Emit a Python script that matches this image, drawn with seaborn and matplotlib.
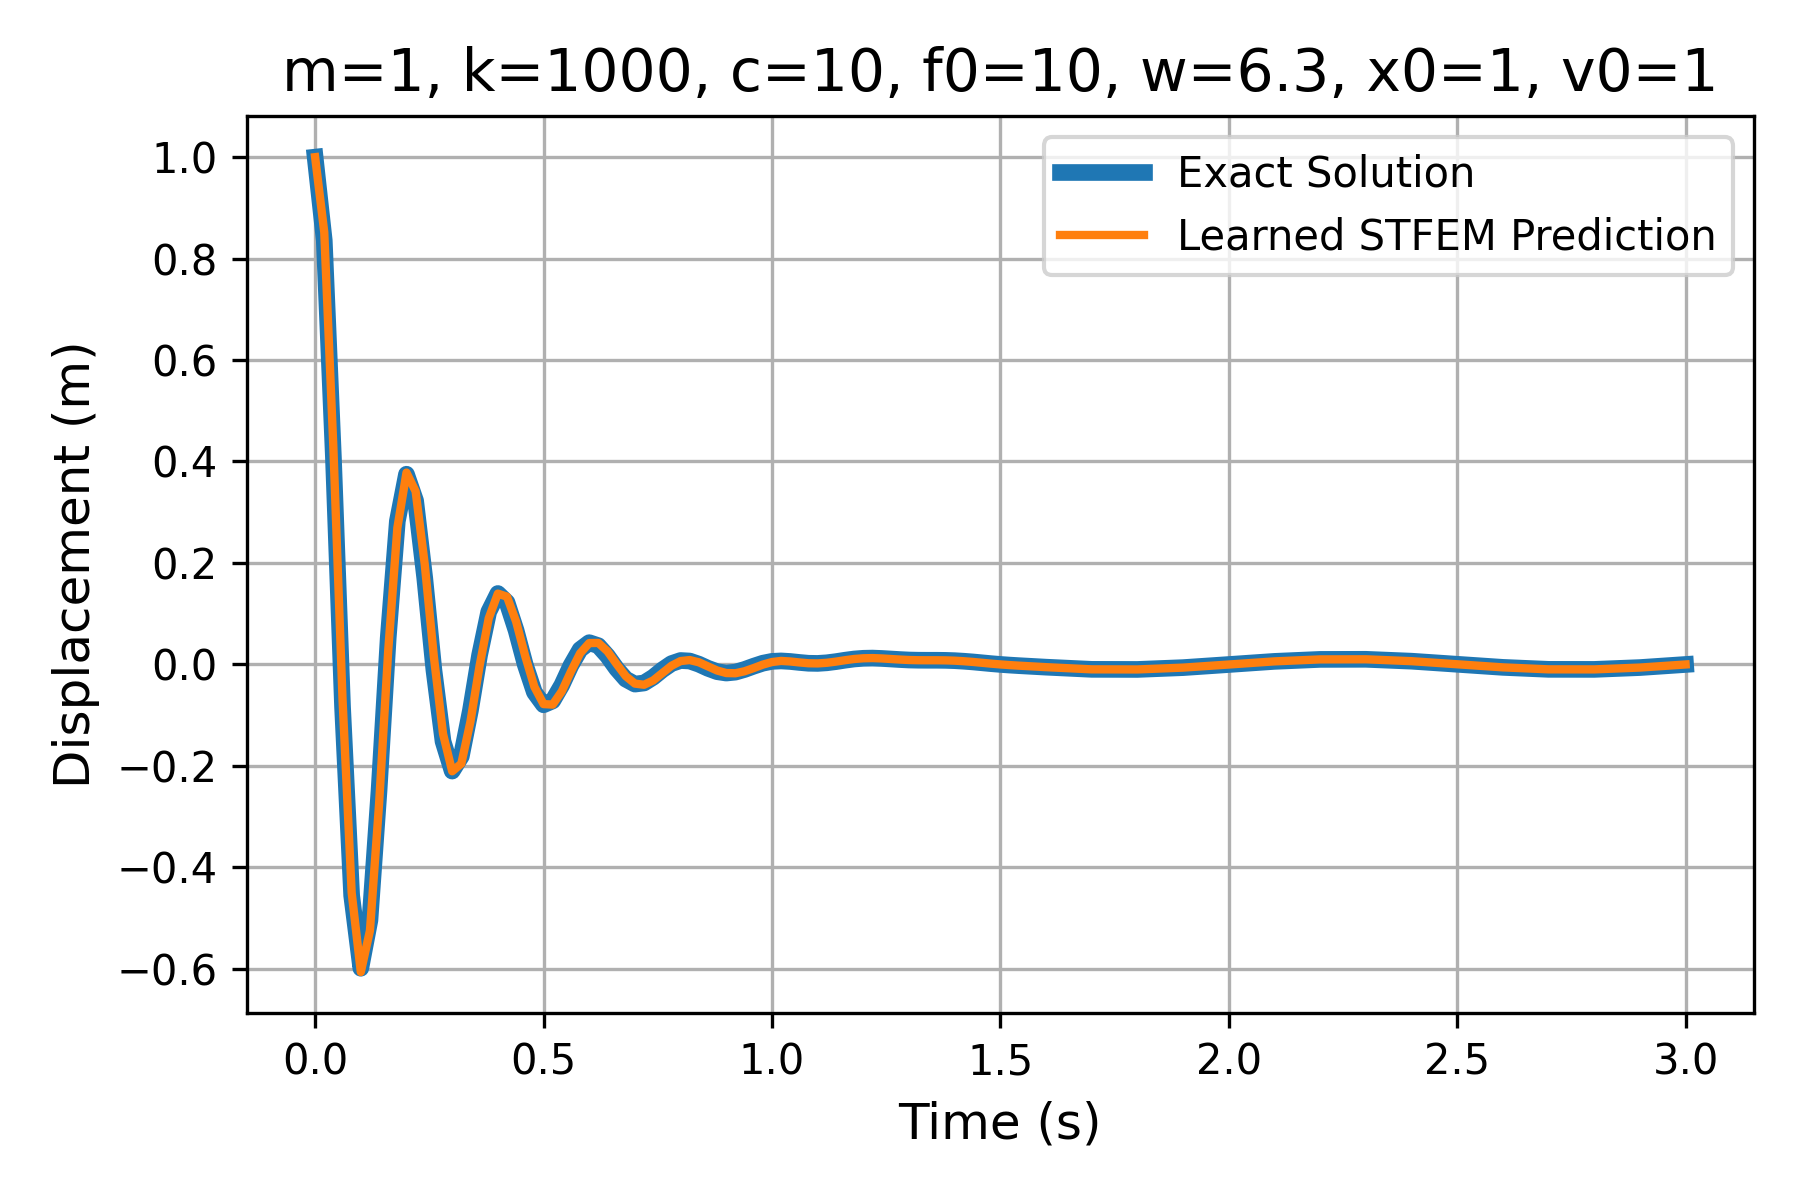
import matplotlib
matplotlib.use("Agg")
import matplotlib.pyplot as plt
import seaborn as sns
import pandas as pd

# Time samples (s)
time_s = [
    0.00, 0.02, 0.04, 0.06, 0.08, 0.10, 0.12, 0.14, 0.16, 0.18,
    0.20, 0.22, 0.24, 0.26, 0.28, 0.30, 0.32, 0.34, 0.36, 0.38,
    0.40, 0.42, 0.44, 0.46, 0.48, 0.50, 0.52, 0.54, 0.56, 0.58,
    0.60, 0.62, 0.64, 0.66, 0.68, 0.70, 0.72, 0.74, 0.76, 0.78,
    0.80, 0.82, 0.84, 0.86, 0.88, 0.90, 0.92, 0.94, 0.96, 0.98,
    1.00, 1.02, 1.04, 1.06, 1.08, 1.10, 1.12, 1.14, 1.16, 1.18,
    1.20, 1.22, 1.24, 1.26, 1.28, 1.30, 1.32, 1.34, 1.36, 1.38,
    1.40, 1.42, 1.44, 1.46, 1.48, 1.50, 1.52, 1.54, 1.56, 1.58,
    1.60, 1.70, 1.80, 1.90, 2.00, 2.10, 2.20, 2.30, 2.40, 2.50,
    2.60, 2.70, 2.80, 2.90, 3.00,
]

# Exact solution displacement (m)
exact_m = [
    1.0000, 0.8358, 0.4088, -0.0833, -0.4557, -0.5991, -0.5044, -0.2476, 0.0522, 0.2823,
    0.3749, 0.3226, 0.1700, -0.0109, -0.1518, -0.2104, -0.1814, -0.0907, 0.0181, 0.1035,
    0.1397, 0.1223, 0.0668, -0.0008, -0.0550, -0.0797, -0.0720, -0.0410, -0.0021, 0.0292,
    0.0428, 0.0368, 0.0166, -0.0085, -0.0291, -0.0389, -0.0367, -0.0254, -0.0108, 0.0015,
    0.0076, 0.0066, 0.0004, -0.0078, -0.0144, -0.0171, -0.0153, -0.0101, -0.0036, 0.0023,
    0.0059, 0.0068, 0.0057, 0.0038, 0.0022, 0.0019, 0.0031, 0.0054, 0.0082, 0.0106,
    0.0120, 0.0124, 0.0117, 0.0106, 0.0095, 0.0086, 0.0082, 0.0081, 0.0081, 0.0079,
    0.0073, 0.0062, 0.0048, 0.0031, 0.0014, -0.0001, -0.0014, -0.0025, -0.0035, -0.0045,
    -0.0055, -0.0098, -0.0100, -0.0064, -0.0003, 0.0059, 0.0098, 0.0100, 0.0063, 0.0002,
    -0.0059, -0.0098, -0.0099, -0.0063, -0.0002,
]

# Learned STFEM prediction displacement (m)
predicted_m = [
    1.0000, 0.8519, 0.4261, -0.0687, -0.4500, -0.6066, -0.5249, -0.2751, 0.0272, 0.2689,
    0.3781, 0.3411, 0.1969, 0.0144, -0.1370, -0.2108, -0.1958, -0.1128, -0.0029, 0.0909,
    0.1395, 0.1335, 0.0843, 0.0162, -0.0443, -0.0783, -0.0793, -0.0531, -0.0141, 0.0217,
    0.0420, 0.0423, 0.0257, 0.0006, -0.0232, -0.0379, -0.0402, -0.0317, -0.0172, -0.0028,
    0.0065, 0.0085, 0.0041, -0.0040, -0.0121, -0.0171, -0.0175, -0.0136, -0.0073, -0.0005,
    0.0046, 0.0068, 0.0057, 0.0038, 0.0022, 0.0019, 0.0031, 0.0054, 0.0082, 0.0106,
    0.0120, 0.0124, 0.0117, 0.0106, 0.0095, 0.0086, 0.0082, 0.0081, 0.0081, 0.0079,
    0.0073, 0.0062, 0.0048, 0.0031, 0.0014, -0.0001, -0.0014, -0.0025, -0.0035, -0.0045,
    -0.0055, -0.0098, -0.0100, -0.0064, -0.0003, 0.0059, 0.0098, 0.0100, 0.0063, 0.0002,
    -0.0059, -0.0098, -0.0099, -0.0063, -0.0002,
]

series_labels = ["Exact Solution", "Learned STFEM Prediction"]
title_text = "m=1, k=1000, c=10, f0=10, w=6.3, x0=1, v0=1"

df = pd.DataFrame({"t": time_s, "exact": exact_m, "pred": predicted_m})

fig, ax = plt.subplots(figsize=(6, 4), dpi=300)

sns.lineplot(data=df, x="t", y="exact", ax=ax, color="#1f77b4", linewidth=4,
             label=series_labels[0], estimator=None, sort=False,
             solid_capstyle="projecting", solid_joinstyle="round")
sns.lineplot(data=df, x="t", y="pred", ax=ax, color="#ff7f0e", linewidth=2,
             label=series_labels[1], estimator=None, sort=False,
             solid_capstyle="projecting", solid_joinstyle="round")

ax.set_title(title_text, fontsize=14)
ax.set_xlabel("Time (s)", fontsize=12)
ax.set_ylabel("Displacement (m)", fontsize=12)
ax.grid(True)
ax.legend(loc="upper right", fontsize=10)

fig.subplots_adjust(left=0.137, right=0.9745, top=0.903, bottom=0.156)
fig.savefig("out.png", dpi=300)
